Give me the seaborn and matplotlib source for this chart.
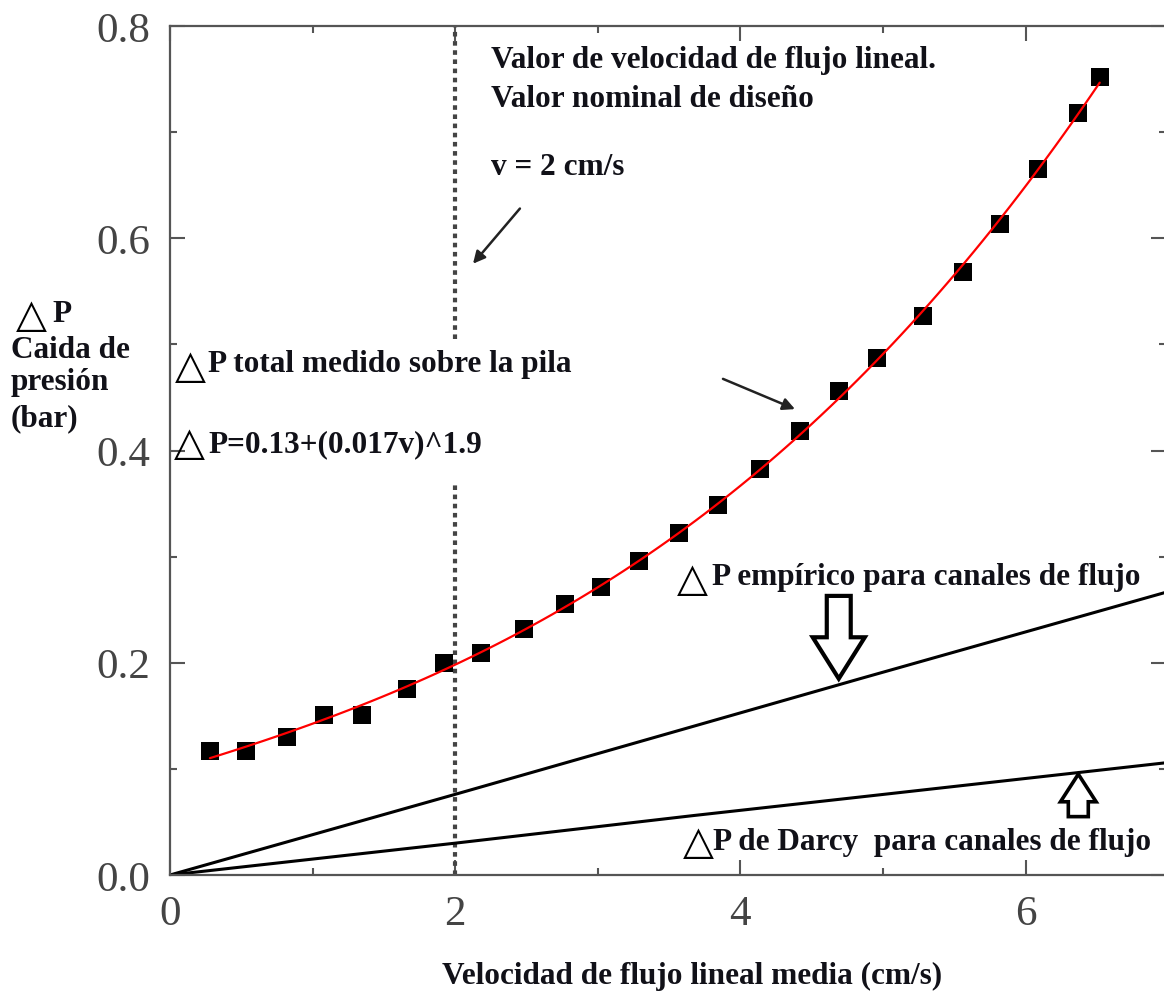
import numpy as np
import pandas as pd
import matplotlib
matplotlib.use("Agg")
import matplotlib.pyplot as plt
import seaborn as sns
from matplotlib.patches import FancyArrow
from matplotlib.ticker import MultipleLocator

# Measured total pressure drop over the stack
velocity = [0.28, 0.53, 0.82, 1.08, 1.35, 1.66, 1.92, 2.18, 2.48, 2.77, 3.02, 3.29,
            3.57, 3.84, 4.14, 4.42, 4.69, 4.96, 5.28, 5.56, 5.82, 6.09, 6.37, 6.52]
dp_total = [0.117, 0.117, 0.130, 0.151, 0.151, 0.175, 0.200, 0.209, 0.232, 0.255, 0.271, 0.296,
            0.322, 0.349, 0.383, 0.418, 0.456, 0.487, 0.527, 0.568, 0.613, 0.665, 0.718, 0.752]

# Empirical and Darcy pressure drop in the flow channels
empirical_v = [0, 2, 4.84, 7]
empirical_dp = [0, 0.076, 0.185, 0.267]
darcy_v = [0, 2, 3.67, 4.84, 7]
darcy_dp = [0, 0.030, 0.056, 0.0735, 0.106]

design_velocity = 2.0

x_ticks = [0, 2, 4, 6]
x_tick_labels = ["0", "2", "4", "6"]
y_ticks = [0.0, 0.2, 0.4, 0.6, 0.8]
y_tick_labels = ["0.0", "0.2", "0.4", "0.6", "0.8"]

sns.set_style("ticks")
plt.rcParams["font.family"] = ["Liberation Serif", "DejaVu Sans"]

W, H = 1164, 995
fig = plt.figure(figsize=(W / 100, H / 100), dpi=100)
ax = fig.add_axes([170 / W, 119 / H, 996 / W, 849 / H])

total = pd.DataFrame({"v": velocity, "dp": dp_total})
sns.regplot(data=total, x="v", y="dp", order=3, ci=None, marker="s", color="black",
            scatter_kws=dict(s=150, linewidths=0, alpha=1, zorder=3),
            line_kws=dict(color="red", lw=1.6, zorder=4), ax=ax)

sns.lineplot(x=empirical_v, y=empirical_dp, color="black", lw=2.2, ax=ax)
sns.lineplot(x=darcy_v, y=darcy_dp, color="black", lw=2.2, ax=ax)

# design-velocity marker, interrupted behind the curve label
ax.vlines([design_velocity, design_velocity], [0.0, 0.505], [0.371, 0.8], colors="#444444",
          lw=3, linestyles=[(0, (1.1, 1.1))], zorder=1)

ax.set_xlim(0, 6.985)
ax.set_ylim(0, 0.8)
ax.set_xticks(x_ticks, x_tick_labels)
ax.set_yticks(y_ticks, y_tick_labels)
ax.xaxis.set_minor_locator(MultipleLocator(1))
ax.yaxis.set_minor_locator(MultipleLocator(0.1))
ax.tick_params(which="both", direction="in", top=True, right=True, color="#555555", width=1.5)
ax.tick_params(which="major", length=11, labelsize=31, labelcolor="#444444", pad=14)
ax.tick_params(which="minor", length=5)
ax.set_xlabel("")
ax.set_ylabel("")
for s in ax.spines.values():
    s.set_color("#555555")
    s.set_linewidth(1.6)
ax.spines["right"].set_color("#bbbbbb")

txt = dict(fontsize=22.5, fontweight="bold", color="#111118", va="baseline", ha="left")
tri = dict(fontsize=29, family="DejaVu Sans", color="black", va="baseline", ha="left")

ax.text(2.25, 0.7615, "Valor de velocidad de flujo lineal.", **txt)
ax.text(2.25, 0.7248, "Valor nominal de diseño", **txt)
ax.text(2.25, 0.6607, "v = 2 cm/s", **txt)

ax.text(0.035, 0.469, "△", **tri)
ax.text(0.266, 0.475, "P total medido sobre la pila", **txt)
ax.text(0.025, 0.397, "△", **tri)
ax.text(0.273, 0.3996, "P=0.13+(0.017v)^1.9", **txt)

ax.text(3.555, 0.269, "△", **tri)
ax.text(3.80, 0.2743, "P empírico para canales de flujo", **txt)
ax.text(3.595, 0.0205, "△", **tri)
ax.text(3.81, 0.0245, "P de Darcy  para canales de flujo", **txt)

# thin pointer arrows
ax.annotate("", xy=(2.125, 0.576), xytext=(2.454, 0.628),
            arrowprops=dict(arrowstyle="-|>", color="#222222", lw=1.8, mutation_scale=18,
                            shrinkA=0, shrinkB=0))
ax.annotate("", xy=(4.383, 0.439), xytext=(3.878, 0.4675),
            arrowprops=dict(arrowstyle="-|>", color="#222222", lw=1.8, mutation_scale=18,
                            shrinkA=0, shrinkB=0))

# hollow block arrows for the channel curves
ax.add_patch(FancyArrow(4.69, 0.263, 0, -0.078, width=0.168, head_width=0.365,
                        head_length=0.039, length_includes_head=True,
                        fc="white", ec="black", lw=3, zorder=5))
ax.add_patch(FancyArrow(6.37, 0.055, 0, 0.040, width=0.14, head_width=0.25,
                        head_length=0.026, length_includes_head=True,
                        fc="white", ec="black", lw=2.6, zorder=5))

# axis titles
lab = dict(fontsize=22.5, fontweight="bold", color="#111118", va="baseline", ha="left")
fig.text(16 / W, 1 - 327 / H, "△", fontsize=29, family="DejaVu Sans", color="black",
         va="baseline", ha="left")
fig.text(52 / W, 1 - 322 / H, "P", **lab)
fig.text(11 / W, 1 - 358 / H, "Caida de", **lab)
fig.text(11 / W, 1 - 390 / H, "presión", **lab)
fig.text(11 / W, 1 - 426 / H, "(bar)", **lab)
fig.text(692 / W, 1 - 984 / H, "Velocidad de flujo lineal media (cm/s)",
         fontsize=22.5, fontweight="bold", color="#111118", va="baseline", ha="center")

fig.savefig("out.png", dpi=100)
